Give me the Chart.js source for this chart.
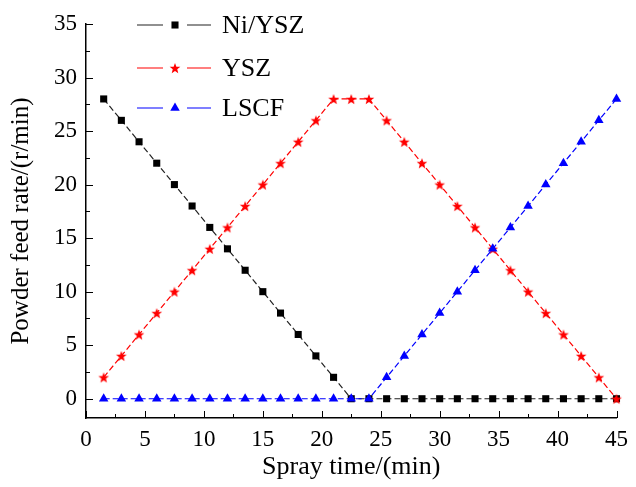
<!DOCTYPE html>
<html>
<head>
<meta charset="utf-8">
<script src="https://cdn.jsdelivr.net/npm/chart.js@4.4.1/dist/chart.umd.min.js"></script>
<style>
  html, body { margin: 0; background: #fff; }
  #wrap { width: 636px; height: 487px; }
</style>
</head>
<body>
<div id="wrap"><canvas id="chart" width="636" height="487"></canvas></div>
<script>
const sprayTime = [1.5, 3, 4.5, 6, 7.5, 9, 10.5, 12, 13.5, 15, 16.5, 18, 19.5, 21, 22.5,
                   24, 25.5, 27, 28.5, 30, 31.5, 33, 34.5, 36, 37.5, 39, 40.5, 42, 43.5, 45];
const niYsz = [28, 26, 24, 22, 20, 18, 16, 14, 12, 10, 8, 6, 4, 2, 0,
               0, 0, 0, 0, 0, 0, 0, 0, 0, 0, 0, 0, 0, 0, 0];
const ysz = [2, 4, 6, 8, 10, 12, 14, 16, 18, 20, 22, 24, 26, 28, 28,
             28, 26, 24, 22, 20, 18, 16, 14, 12, 10, 8, 6, 4, 2, 0];
const lscf = [0, 0, 0, 0, 0, 0, 0, 0, 0, 0, 0, 0, 0, 0, 0,
              0, 2, 4, 6, 8, 10, 12, 14, 16, 18, 20, 22, 24, 26, 28];
const xTicks = [0, 5, 10, 15, 20, 25, 30, 35, 40, 45];
const yTicks = [0, 5, 10, 15, 20, 25, 30, 35];
const seriesNames = ["Ni/YSZ", "YSZ", "LSCF"];

const FONT = "'Liberation Serif', 'Times New Roman', serif";

// filled five point star for the YSZ markers
function makeStar(color, r) {
  const c = document.createElement("canvas");
  const s = Math.ceil(r * 2 + 2);
  c.width = s; c.height = s;
  const g = c.getContext("2d");
  g.fillStyle = color;
  g.beginPath();
  for (let i = 0; i < 10; i++) {
    const rad = i % 2 === 0 ? r : r * 0.42;
    const a = -Math.PI / 2 + i * Math.PI / 5;
    const px = s / 2 + rad * Math.cos(a), py = s / 2 + 0.6 + rad * Math.sin(a);
    i === 0 ? g.moveTo(px, py) : g.lineTo(px, py);
  }
  g.closePath();
  g.fill();
  return c;
}
const star = makeStar("#ff0000", 5.6);

const toPts = ys => ys.map((y, i) => ({ x: sprayTime[i], y }));

const datasets = [
  { label: seriesNames[0], data: toPts(niYsz), borderColor: "#222", backgroundColor: "#000",
    pointStyle: "rect", pointRadius: 5, order: 3 },
  { label: seriesNames[1], data: toPts(ysz), borderColor: "#ff0000", backgroundColor: "#ff0000",
    pointStyle: star, pointRadius: 6, order: 2 },
  { label: seriesNames[2], data: toPts(lscf), borderColor: "#0000ff", backgroundColor: "#0000ff",
    pointStyle: "triangle", pointRadius: 5.5, order: 1 }
].map(d => Object.assign({
  borderWidth: 1.2, borderDash: [6, 3], pointBorderWidth: 0, tension: 0, clip: false
}, d));

// inward major/minor ticks
const innerTicks = {
  id: "innerTicks",
  afterDraw(chart) {
    const { ctx, chartArea: a, scales: { x, y } } = chart;
    ctx.save();
    ctx.strokeStyle = "#000";
    ctx.lineWidth = 1;
    ctx.beginPath();
    for (let v = 0; v <= 45; v += 2.5) {
      const px = Math.round(x.getPixelForValue(v)) + 0.5;
      const len = v % 5 === 0 ? 7 : 4;
      ctx.moveTo(px, a.bottom); ctx.lineTo(px, a.bottom - len);
    }
    for (let v = 0; v <= 35; v += 2.5) {
      const py = Math.round(y.getPixelForValue(v)) + 0.5;
      const len = v % 5 === 0 ? 7 : 4;
      ctx.moveTo(a.left, py); ctx.lineTo(a.left + len, py);
    }
    ctx.stroke();
    ctx.restore();
  }
};

// legend: dashed line with marker in the middle
const lineLegend = {
  id: "lineLegend",
  afterDraw(chart) {
    const ctx = chart.ctx;
    const rows = [25, 68, 108];
    ctx.save();
    chart.data.datasets.forEach((d, i) => {
      const yy = rows[i];
      ctx.strokeStyle = d.borderColor;
      ctx.lineWidth = 1.2;
      ctx.setLineDash([]);
      ctx.beginPath();
      ctx.moveTo(137, yy); ctx.lineTo(163, yy);
      ctx.moveTo(187, yy); ctx.lineTo(211, yy);
      ctx.stroke();
      ctx.fillStyle = d.backgroundColor;
      Chart.helpers.drawPoint(ctx, {
        pointStyle: d.pointStyle, radius: d.pointRadius, borderWidth: 0, rotation: 0
      }, 175, yy);
      ctx.fillStyle = "#000";
      ctx.font = "26px " + FONT;
      ctx.textBaseline = "middle";
      ctx.textAlign = "left";
      ctx.fillText(d.label, 222, yy + 1);
    });
    ctx.restore();
  }
};

Chart.defaults.font.family = FONT;
Chart.defaults.color = "#000";

new Chart(document.getElementById("chart"), {
  type: "line",
  data: { datasets },
  options: {
    responsive: false,
    animation: false,
    layout: { padding: { top: 24, right: 10, left: 0, bottom: 0 } },
    plugins: { legend: { display: false }, tooltip: { enabled: false } },
    elements: { point: { hoverRadius: 5 } },
    scales: {
      x: {
        type: "linear", min: 0, max: 45,
        afterBuildTicks: s => { s.ticks = xTicks.map(v => ({ value: v })); },
        afterFit: s => { s.height = 69; },
        grid: { display: false, drawTicks: false },
        border: { display: true, color: "#000", width: 1.5 },
        ticks: { padding: 8, font: { size: 23 }, maxRotation: 0 },
        title: { display: true, text: "Spray time/(min)", font: { size: 26 }, padding: { top: 0 } }
      },
      y: {
        type: "linear", min: -1.8, max: 35,
        afterBuildTicks: s => { s.ticks = yTicks.map(v => ({ value: v })); },
        afterFit: s => { s.width = 86; },
        grid: { display: false, drawTicks: false },
        border: { display: true, color: "#000", width: 1.5 },
        ticks: { padding: 9, font: { size: 23 } },
        title: { display: true, text: "Powder feed rate/(r/min)", font: { size: 25 }, padding: { top: 6, bottom: 0 } }
      }
    }
  },
  plugins: [innerTicks, lineLegend]
});
</script>
</body>
</html>
